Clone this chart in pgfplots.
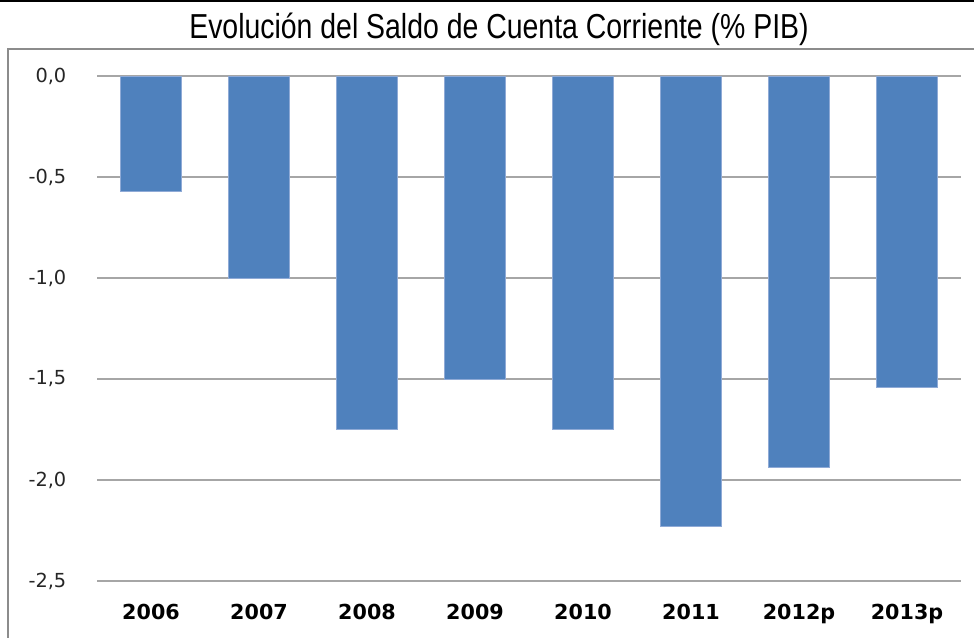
\documentclass[border=0pt]{standalone}
\usepackage{fontspec}
\setmainfont{DejaVu Sans}
\newfontfamily\titlefont[FakeStretch=0.82]{Liberation Sans}
\usepackage{pgfplots}
\pgfplotsset{compat=1.18}
\definecolor{barblue}{HTML}{4F81BD}
\definecolor{baredge}{HTML}{8FAAD6}
\definecolor{gridgray}{HTML}{A6A6A6}
\definecolor{boxgray}{HTML}{8C8C8C}

\pgfplotstableread{
x  val
0  -0.57
1  -1.00
2  -1.75
3  -1.50
4  -1.75
5  -2.23
6  -1.94
7  -1.54
}\saldo

\begin{document}
\begin{tikzpicture}
\path[use as bounding box] (0,0) rectangle (730.5pt,477.75pt);
\draw[boxgray, line width=1.5pt] (6pt,-10pt) rectangle (745pt,441pt);
\draw[black, line width=1.5pt] (-5pt,477pt) -- (740pt,477pt);
\node[anchor=base, inner sep=0pt, font=\titlefont\fontsize{26}{30}\selectfont]
  at (374.25pt,448.5pt) {Evolución del Saldo de Cuenta Corriente (\% PIB)};
\begin{axis}[
    at={(72.75pt,42pt)}, anchor=south west,
    scale only axis,
    width=648pt, height=378.75pt,
    xmin=-0.5, xmax=7.5,
    ymin=-2.5, ymax=0,
    axis line style={draw=none},
    ytick={-2.5,-2,-1.5,-1,-0.5,0},
    ymajorgrids,
    grid style={gridgray, line width=1pt},
    major tick length=0pt,
    tick style={draw=none},
    xtick=data,
    xticklabels={2006,2007,2008,2009,2010,2011,2012p,2013p},
    xticklabel style={anchor=base, yshift=-28.5pt, font=\bfseries\fontsize{15.5}{18}\selectfont},
    yticklabel style={anchor=east, xshift=-19.5pt, font=\fontsize{14.5}{17}\selectfont, text=black!85},
    /pgf/number format/.cd, fixed, fixed zerofill, precision=1, use comma, assume math mode=true,
]
\addplot[ybar, bar width=45.75pt, fill=barblue, draw=baredge, line width=0.6pt] table[x=x, y=val] {\saldo};
\end{axis}
\end{tikzpicture}
\end{document}
